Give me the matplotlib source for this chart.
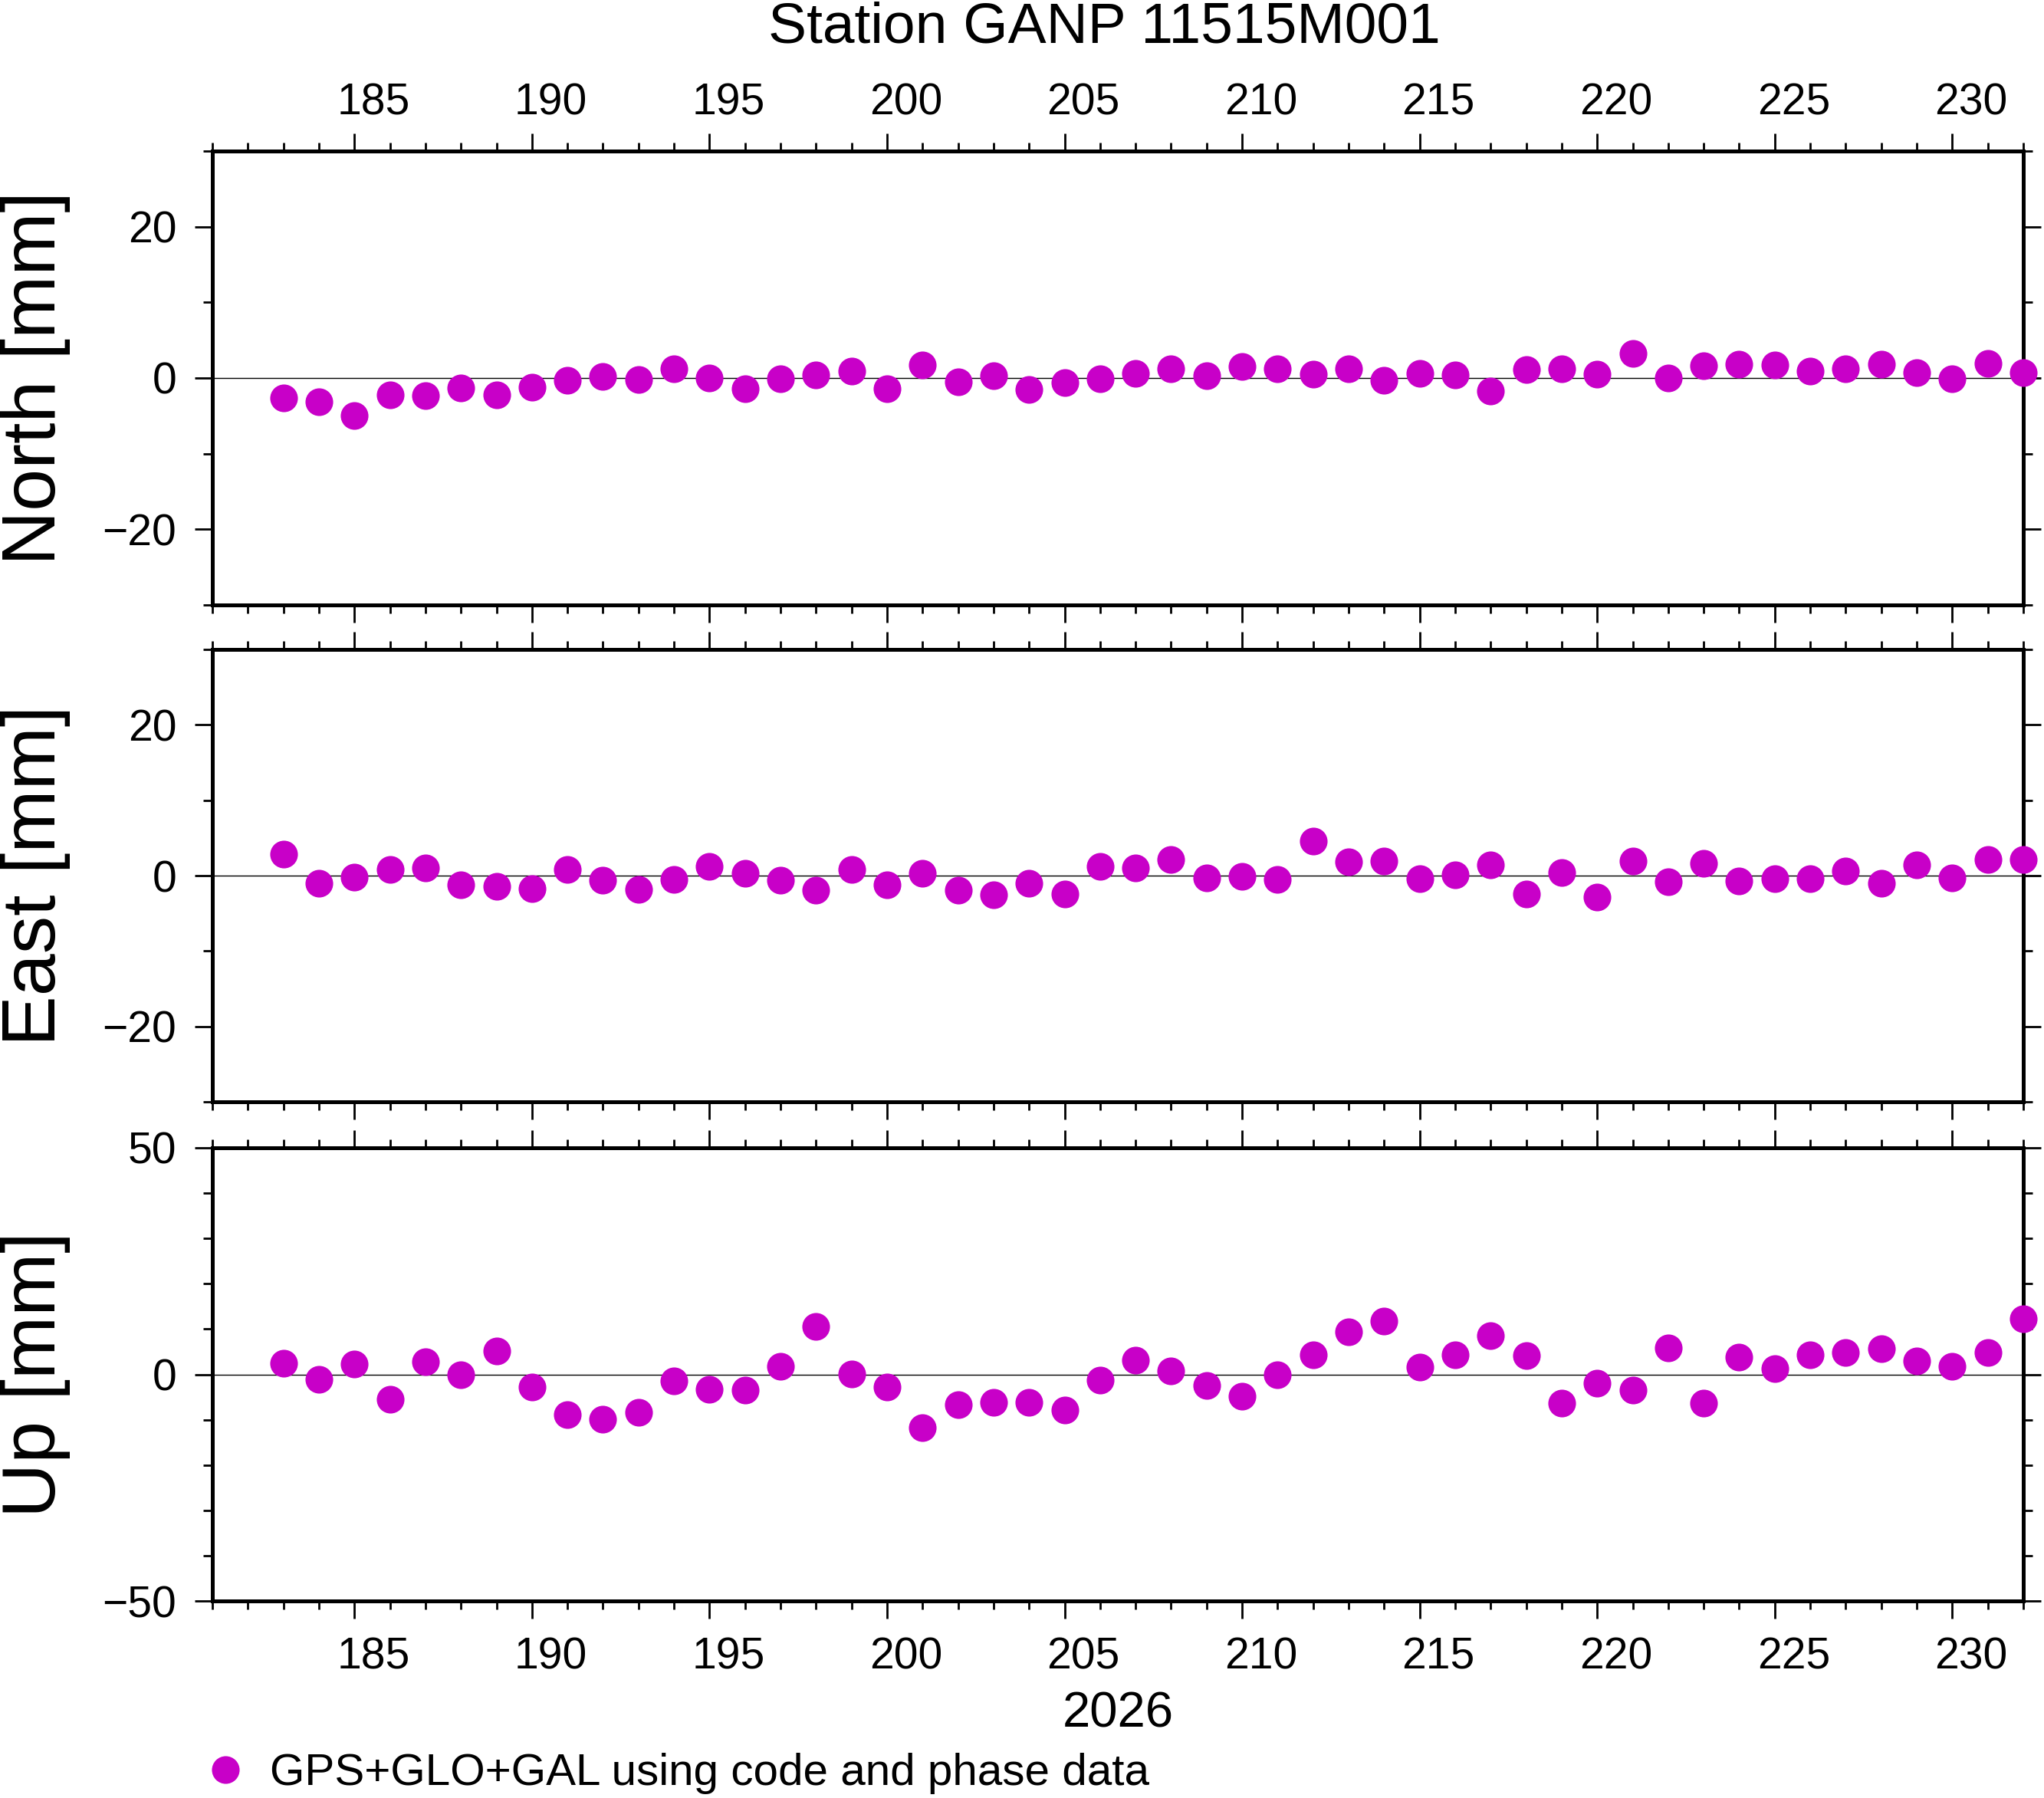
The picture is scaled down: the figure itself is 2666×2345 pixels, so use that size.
import matplotlib
matplotlib.use("Agg")
import matplotlib.pyplot as plt
from matplotlib.ticker import MultipleLocator, FixedLocator
from matplotlib.lines import Line2D
from matplotlib.transforms import ScaledTranslation

plt.rcParams['font.family'] = ['Liberation Sans', 'DejaVu Sans']

# ---- data ----
days = list(range(183, 233))
north = [-2.6, -3.1, -5.0, -2.2, -2.3, -1.3, -2.2, -1.2, -0.3, 0.2,
         -0.2, 1.2, 0.0, -1.4, -0.1, 0.4, 0.9, -1.4, 1.7, -0.5,
         0.3, -1.5, -0.6, -0.1, 0.6, 1.2, 0.3, 1.5, 1.2, 0.5,
         1.2, -0.3, 0.6, 0.4, -1.7, 1.1, 1.2, 0.5, 3.2, 0.0,
         1.6, 1.8, 1.7, 0.9, 1.2, 1.8, 0.7, -0.1, 1.9, 0.7]
east = [2.8, -1.0, -0.2, 0.8, 1.0, -1.2, -1.4, -1.7, 0.8, -0.6,
        -1.8, -0.5, 1.2, 0.3, -0.6, -1.9, 0.8, -1.2, 0.3, -1.9,
        -2.5, -1.0, -2.4, 1.2, 1.0, 2.1, -0.3, -0.1, -0.5, 4.6,
        1.8, 1.9, -0.4, 0.1, 1.4, -2.4, 0.4, -2.8, 1.9, -0.8,
        1.6, -0.7, -0.4, -0.4, 0.6, -1.0, 1.4, -0.3, 2.1, 2.1]
up = [2.5, -1.1, 2.3, -5.5, 2.8, -0.1, 5.1, -2.8, -8.9, -9.9,
      -8.4, -1.5, -3.3, -3.5, 1.7, 10.6, 0.1, -2.8, -11.8, -6.6,
      -6.2, -6.2, -7.9, -1.3, 3.1, 0.7, -2.5, -4.8, -0.1, 4.3,
      9.4, 11.7, 1.6, 4.3, 8.5, 4.1, -6.4, -1.9, -3.5, 5.9,
      -6.4, 3.8, 1.2, 4.3, 4.8, 5.6, 2.9, 1.7, 4.8, 12.2]

panel_labels = ["North [mm]", "East [mm]", "Up [mm]"]
panel_ylims = [(-30, 30), (-30, 30), (-50, 50)]
panel_major = [[-20, 0, 20], [-20, 0, 20], [-50, 0, 50]]
panel_minor = [10, 10, 10]
x_range = (181, 232)
title = "Station GANP 11515M001"
year_label = "2026"
legend_label = "GPS+GLO+GAL using code and phase data"

# ---- styling ----
W, H = 2666, 2345
DPI = 200
color = "#c800c8"
tick_fs = 20.5
fig = plt.figure(figsize=(W / DPI, H / DPI), dpi=DPI)

left_px, right_px = 277, 2639
panel_px = [(197, 789), (847, 1437), (1497, 2088)]
label_shift = ScaledTranslation(24.5 / DPI, 0, fig.dpi_scale_trans)

series = [north, east, up]
axes = []
for i, ((t, b), vals) in enumerate(zip(panel_px, series)):
    ax = fig.add_axes([left_px / W, 1 - b / H, (right_px - left_px) / W, (b - t) / H])
    axes.append(ax)
    ax.axhline(0, color="black", lw=0.5, zorder=1)
    ax.plot(days, vals, "o", color=color, markersize=13, markeredgewidth=0,
            clip_on=False, zorder=4)
    ax.set_xlim(*x_range)
    ax.set_ylim(*panel_ylims[i])
    ax.xaxis.set_major_locator(MultipleLocator(5))
    ax.xaxis.set_minor_locator(MultipleLocator(1))
    ax.yaxis.set_major_locator(FixedLocator(panel_major[i]))
    ax.yaxis.set_minor_locator(MultipleLocator(panel_minor[i]))
    for s in ax.spines.values():
        s.set_linewidth(1.8)
    ax.tick_params(which="both", direction="out", top=True, bottom=True,
                   left=True, right=True, width=1.0, labelsize=tick_fs)
    ax.tick_params(which="major", length=8.3, pad=8.5)
    ax.tick_params(axis="x", which="major", pad=(4.5 if i == 0 else 8.5))
    ax.tick_params(which="minor", length=3.8)
    ax.tick_params(axis="y", which="minor", length=4.3)
    ax.tick_params(labeltop=(i == 0), labelbottom=(i == 2),
                   labelleft=True, labelright=False)
    for tk in ax.xaxis.get_major_ticks():
        for lab in (tk.label1, tk.label2):
            lab.set_transform(lab.get_transform() + label_shift)
    fig.text(47 / W, 1 - ((t + b) / 2) / H, panel_labels[i], rotation=90,
             ha="center", va="center", fontsize=35.5)

axes[2].set_xlabel(year_label, fontsize=23.5, labelpad=6)

fig.text(1440 / W, 1 - 55 / H, title, ha="center", va="baseline", fontsize=27)

handle = Line2D([], [], linestyle="none", marker="o", color=color,
                markersize=13, markeredgewidth=0)
fig.legend(handles=[handle], labels=[legend_label], loc="center left",
           bbox_to_anchor=(265 / W, 1 - 2313 / H), frameon=False,
           fontsize=21, handlelength=1.0, handletextpad=0.5,
           borderpad=0, borderaxespad=0)

fig.savefig("out.png", dpi=DPI)
